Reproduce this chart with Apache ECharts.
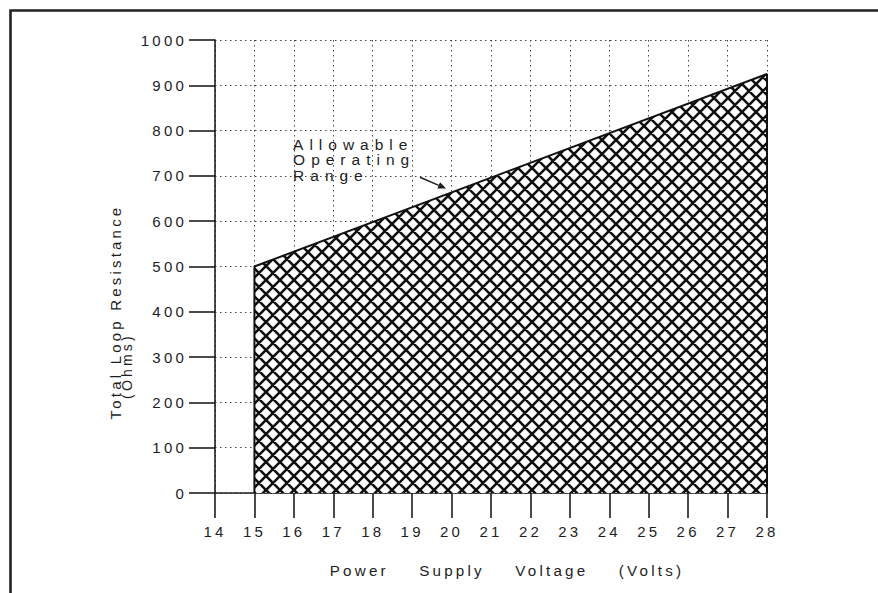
<!DOCTYPE html>
<html><head><meta charset="utf-8">
<script src="https://cdn.jsdelivr.net/npm/echarts@6/dist/echarts.min.js"></script>
<style>
html,body{margin:0;padding:0;background:#fff;}
#c{width:878px;height:593px;}
#c text{letter-spacing:3.2px;}
#c text[style*="15.5px"]{letter-spacing:6px;}
#c text[style*="15.2px"]{word-spacing:23px;}
</style></head><body><div id="c"></div>
<script>
// ---- data ----
const boundaryVoltage = [15, 15, 28, 28];
const boundaryResistance = [0, 500, 925, 0];
const xTickMin = 14, xTickMax = 28, xTickStep = 1;
const yTickMin = 0, yTickMax = 1000, yTickStep = 100;
const xAxisTitle = 'Power Supply Voltage (Volts)';
const yAxisTitle = 'Total Loop Resistance';
const yAxisUnit = '(Ohms)';
const annotationLines = ['Allowable', 'Operating', 'Range'];
const annotationAt = [15.98, 787];
const arrowFrom = [19.2, 697];
const arrowTo = [19.86, 672];

// ---- styling ----
const FONT = 'Liberation Sans';
const INK = '#1e1e1e';
const LINE_PITCH = 15.5;

function hatch(p) {
  const c = document.createElement('canvas');
  c.width = p; c.height = p;
  const g = c.getContext('2d');
  g.fillStyle = '#fff'; g.fillRect(0, 0, p, p);
  g.strokeStyle = '#111'; g.lineWidth = 2.6;
  g.beginPath();
  for (let k = -1; k <= 1; k++) {
    g.moveTo(k * p, 0); g.lineTo(k * p + p, p);
    g.moveTo(k * p + p, 0); g.lineTo(k * p, p);
  }
  g.stroke();
  return c;
}

const chart = echarts.init(document.getElementById('c'), null, {renderer: 'svg'});
const dotted = {type: [1.5, 3.5], color: '#444', width: 1};

chart.setOption({
  animation: false,
  backgroundColor: '#fff',
  grid: {left: 215, right: 111, top: 40, bottom: 100, outerBoundsMode: 'none'},
  xAxis: {
    type: 'value', min: xTickMin, max: xTickMax, interval: xTickStep,
    name: xAxisTitle, nameLocation: 'middle', nameGap: 70,
    nameTextStyle: {fontFamily: FONT, fontSize: 15.2, color: INK, padding: [0, 0, 0, 32]},
    axisLine: {show: true, onZero: false, lineStyle: {color: INK, width: 1.6}},
    axisTick: {show: true, length: 25, lineStyle: {color: INK, width: 1.6}},
    axisLabel: {margin: 31, fontFamily: FONT, fontSize: 15, color: INK, formatter: v => String(v)},
    splitLine: {show: true, lineStyle: dotted}
  },
  yAxis: {
    type: 'value', min: yTickMin, max: yTickMax, interval: yTickStep,
    axisLine: {show: true, lineStyle: {color: INK, width: 1.6}},
    axisTick: {show: true, length: 26, lineStyle: {color: INK, width: 1.6}},
    axisLabel: {margin: 28, fontFamily: FONT, fontSize: 15, color: INK, formatter: v => String(v)},
    splitLine: {show: true, lineStyle: dotted}
  },
  series: [{
    type: 'line',
    data: boundaryVoltage.map((v, i) => [v, boundaryResistance[i]]),
    symbol: 'none',
    z: 5,
    lineStyle: {color: '#111', width: 2},
    areaStyle: {color: {image: hatch(14), repeat: 'repeat'}, opacity: 1}
  }]
});

const a0 = chart.convertToPixel({gridIndex: 0}, annotationAt);
const f = chart.convertToPixel({gridIndex: 0}, arrowFrom);
const t = chart.convertToPixel({gridIndex: 0}, arrowTo);
const dx = t[0] - f[0], dy = t[1] - f[1], L = Math.hypot(dx, dy);
const ux = dx / L, uy = dy / L, hl = 8, hw = 3.5;
const bx = t[0] - ux * hl, by = t[1] - uy * hl;

const annotationTexts = annotationLines.map((s, i) => ({
  type: 'text', x: a0[0], y: a0[1] + i * LINE_PITCH, z: 10,
  style: {text: s, fontFamily: FONT, fontSize: 15.5, lineHeight: LINE_PITCH,
          fill: INK, align: 'left', verticalAlign: 'top'}
}));

chart.setOption({
  graphic: [
    {type: 'polyline', silent: true, shape: {points: [[10.5, 593], [10.5, 10.5], [878, 10.5]]},
     style: {stroke: '#222', lineWidth: 2.6, fill: null}},
    {type: 'text', x: 115, y: 312, rotation: Math.PI / 2,
     style: {text: yAxisTitle, font: '15px ' + FONT, fill: INK, align: 'center', verticalAlign: 'middle'}},
    {type: 'text', x: 127, y: 366, rotation: Math.PI / 2,
     style: {text: yAxisUnit, font: '14px ' + FONT, fill: INK, align: 'center', verticalAlign: 'middle'}},
    ...annotationTexts,
    {type: 'line', z: 10, shape: {x1: f[0], y1: f[1], x2: bx, y2: by},
     style: {stroke: INK, lineWidth: 1.5}},
    {type: 'polygon', z: 10, shape: {points: [[t[0], t[1]], [bx - uy * hw, by + ux * hw], [bx + uy * hw, by - ux * hw]]},
     style: {fill: INK}}
  ]
});
</script></body></html>
